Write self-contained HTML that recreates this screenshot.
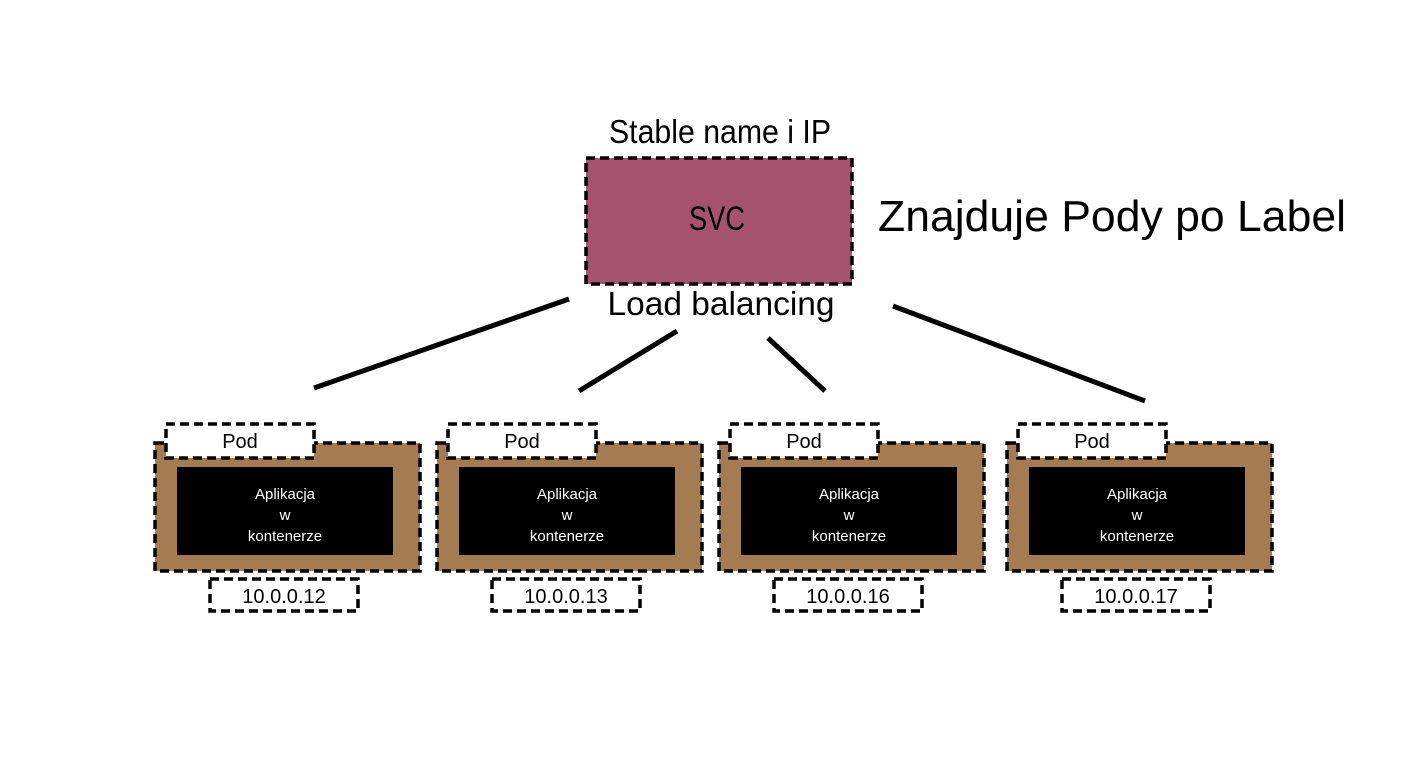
<!DOCTYPE html>
<html><head><style>html,body{margin:0;padding:0;background:#fff}svg{display:block}</style></head>
<body>
<svg width="1428" height="768" viewBox="0 0 1428 768" xmlns="http://www.w3.org/2000/svg" font-family="Liberation Sans, sans-serif">
<rect x="0" y="0" width="1428" height="768" fill="#fff"/>
<text x="720" y="143" font-size="33" text-anchor="middle" textLength="222" lengthAdjust="spacingAndGlyphs">Stable name i IP</text>
<rect x="586" y="158" width="266" height="126" fill="#a5526f" stroke="#000" stroke-width="3.5" stroke-dasharray="9,5"/>
<text x="717" y="230" font-size="34" text-anchor="middle" textLength="56" lengthAdjust="spacingAndGlyphs">SVC</text>
<text x="1112" y="231" font-size="44" text-anchor="middle" textLength="468" lengthAdjust="spacingAndGlyphs">Znajduje Pody po Label</text>
<text x="721" y="315" font-size="33" text-anchor="middle" textLength="227" lengthAdjust="spacingAndGlyphs">Load balancing</text>
<g stroke="#000" stroke-width="5" stroke-linecap="butt">
<line x1="314" y1="388" x2="569" y2="299"/>
<line x1="579" y1="391" x2="677" y2="331"/>
<line x1="768" y1="338" x2="825" y2="391"/>
<line x1="893" y1="306" x2="1145" y2="401"/>
</g>
<g>
<rect x="155" y="443" width="265" height="128" fill="#a57b52" stroke="#000" stroke-width="3.5" stroke-dasharray="9,5"/>
<rect x="166" y="424" width="148" height="34" fill="#fff" stroke="#000" stroke-width="3.5" stroke-dasharray="9,5"/>
<text x="240" y="448" font-size="20" text-anchor="middle">Pod</text>
<rect x="178" y="468" width="214" height="86" fill="#000" stroke="#000" stroke-width="2"/>
<text x="285" y="499" font-size="15" fill="#fff" text-anchor="middle">Aplikacja</text>
<text x="285" y="520" font-size="15" fill="#fff" text-anchor="middle">w</text>
<text x="285" y="541" font-size="15" fill="#fff" text-anchor="middle">kontenerze</text>
<rect x="210" y="579" width="148" height="32" fill="#fff" stroke="#000" stroke-width="3.5" stroke-dasharray="9,5"/>
<text x="284" y="603" font-size="20" text-anchor="middle">10.0.0.12</text>
</g>
<g transform="translate(282,0)">
<rect x="155" y="443" width="265" height="128" fill="#a57b52" stroke="#000" stroke-width="3.5" stroke-dasharray="9,5"/>
<rect x="166" y="424" width="148" height="34" fill="#fff" stroke="#000" stroke-width="3.5" stroke-dasharray="9,5"/>
<text x="240" y="448" font-size="20" text-anchor="middle">Pod</text>
<rect x="178" y="468" width="214" height="86" fill="#000" stroke="#000" stroke-width="2"/>
<text x="285" y="499" font-size="15" fill="#fff" text-anchor="middle">Aplikacja</text>
<text x="285" y="520" font-size="15" fill="#fff" text-anchor="middle">w</text>
<text x="285" y="541" font-size="15" fill="#fff" text-anchor="middle">kontenerze</text>
<rect x="210" y="579" width="148" height="32" fill="#fff" stroke="#000" stroke-width="3.5" stroke-dasharray="9,5"/>
<text x="284" y="603" font-size="20" text-anchor="middle">10.0.0.13</text>
</g>
<g transform="translate(564,0)">
<rect x="155" y="443" width="265" height="128" fill="#a57b52" stroke="#000" stroke-width="3.5" stroke-dasharray="9,5"/>
<rect x="166" y="424" width="148" height="34" fill="#fff" stroke="#000" stroke-width="3.5" stroke-dasharray="9,5"/>
<text x="240" y="448" font-size="20" text-anchor="middle">Pod</text>
<rect x="178" y="468" width="214" height="86" fill="#000" stroke="#000" stroke-width="2"/>
<text x="285" y="499" font-size="15" fill="#fff" text-anchor="middle">Aplikacja</text>
<text x="285" y="520" font-size="15" fill="#fff" text-anchor="middle">w</text>
<text x="285" y="541" font-size="15" fill="#fff" text-anchor="middle">kontenerze</text>
<rect x="210" y="579" width="148" height="32" fill="#fff" stroke="#000" stroke-width="3.5" stroke-dasharray="9,5"/>
<text x="284" y="603" font-size="20" text-anchor="middle">10.0.0.16</text>
</g>
<g transform="translate(852,0)">
<rect x="155" y="443" width="265" height="128" fill="#a57b52" stroke="#000" stroke-width="3.5" stroke-dasharray="9,5"/>
<rect x="166" y="424" width="148" height="34" fill="#fff" stroke="#000" stroke-width="3.5" stroke-dasharray="9,5"/>
<text x="240" y="448" font-size="20" text-anchor="middle">Pod</text>
<rect x="178" y="468" width="214" height="86" fill="#000" stroke="#000" stroke-width="2"/>
<text x="285" y="499" font-size="15" fill="#fff" text-anchor="middle">Aplikacja</text>
<text x="285" y="520" font-size="15" fill="#fff" text-anchor="middle">w</text>
<text x="285" y="541" font-size="15" fill="#fff" text-anchor="middle">kontenerze</text>
<rect x="210" y="579" width="148" height="32" fill="#fff" stroke="#000" stroke-width="3.5" stroke-dasharray="9,5"/>
<text x="284" y="603" font-size="20" text-anchor="middle">10.0.0.17</text>
</g>
</svg>
</body></html>
